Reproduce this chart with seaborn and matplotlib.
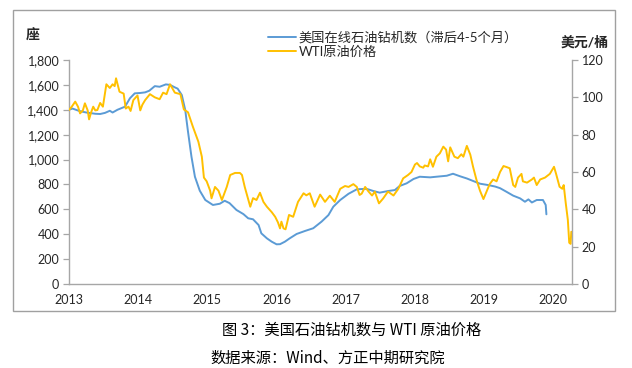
import matplotlib
matplotlib.use("Agg")
import matplotlib.pyplot as plt
import matplotlib.ticker as mticker
from matplotlib.patches import Rectangle
import seaborn as sns
import pandas as pd

# ----------------------------
# DATA (decimal years)
# ----------------------------
rig_t = [2013.00, 2013.05, 2013.15, 2013.25, 2013.38, 2013.45, 2013.52, 2013.59, 2013.63, 2013.70,
         2013.81, 2013.88, 2013.95, 2014.03, 2014.10, 2014.16, 2014.24, 2014.31, 2014.40, 2014.46,
         2014.53, 2014.57, 2014.63, 2014.68, 2014.72, 2014.77, 2014.82, 2014.89, 2014.97, 2015.08,
         2015.18, 2015.25, 2015.32, 2015.42, 2015.52, 2015.59, 2015.66, 2015.74, 2015.78, 2015.86,
         2015.93, 2016.00, 2016.05, 2016.12, 2016.19, 2016.29, 2016.41, 2016.53, 2016.65, 2016.75,
         2016.82, 2016.92, 2017.04, 2017.16, 2017.30, 2017.40, 2017.49, 2017.61, 2017.71, 2017.78,
         2017.88, 2017.98, 2018.07, 2018.22, 2018.31, 2018.46, 2018.55, 2018.65, 2018.75, 2018.84,
         2018.94, 2019.06, 2019.16, 2019.23, 2019.32, 2019.42, 2019.52, 2019.59, 2019.64, 2019.69,
         2019.76, 2019.85, 2019.89, 2019.90]
rig_count = [1400, 1410, 1390, 1378, 1368, 1366, 1375, 1392, 1378, 1400,
             1425, 1492, 1532, 1535, 1540, 1553, 1590, 1585, 1604, 1600,
             1580, 1570, 1519, 1398, 1224, 1023, 862, 750, 675, 635,
             645, 669, 650, 595, 562, 528, 520, 474, 407, 367,
             340, 319, 320, 340, 367, 402, 426, 448, 501, 554,
             621, 675, 725, 761, 765, 747, 734, 747, 755, 788,
             809, 844, 862, 857, 862, 870, 886, 866, 848, 828,
             806, 795, 783, 770, 742, 710, 688, 661, 680, 655,
             675, 675, 635, 560]

wti_t = [2013.00, 2013.04, 2013.09, 2013.13, 2013.16, 2013.20, 2013.23, 2013.27, 2013.29, 2013.32,
         2013.35, 2013.38, 2013.41, 2013.45, 2013.49, 2013.54, 2013.59, 2013.63, 2013.66, 2013.68,
         2013.73, 2013.79, 2013.82, 2013.86, 2013.89, 2013.93, 2013.99, 2014.03, 2014.06, 2014.10,
         2014.17, 2014.24, 2014.31, 2014.36, 2014.41, 2014.46, 2014.53, 2014.61, 2014.66, 2014.72,
         2014.79, 2014.87, 2014.92, 2014.95, 2014.99, 2015.04, 2015.06, 2015.11, 2015.16, 2015.21,
         2015.28, 2015.33, 2015.40, 2015.47, 2015.50, 2015.54, 2015.62, 2015.66, 2015.71, 2015.76,
         2015.81, 2015.86, 2015.93, 2015.98, 2016.02, 2016.05, 2016.07, 2016.10, 2016.13, 2016.18,
         2016.24, 2016.31, 2016.39, 2016.43, 2016.48, 2016.55, 2016.63, 2016.70, 2016.77, 2016.84,
         2016.92, 2016.99, 2017.04, 2017.11, 2017.16, 2017.20, 2017.23, 2017.28, 2017.33, 2017.38,
         2017.42, 2017.48, 2017.54, 2017.61, 2017.69, 2017.76, 2017.83, 2017.90, 2017.95, 2018.00,
         2018.03, 2018.07, 2018.12, 2018.14, 2018.19, 2018.22, 2018.26, 2018.31, 2018.36, 2018.41,
         2018.45, 2018.48, 2018.51, 2018.57, 2018.62, 2018.67, 2018.70, 2018.75, 2018.80, 2018.84,
         2018.89, 2018.94, 2018.99, 2019.04, 2019.08, 2019.13, 2019.18, 2019.23, 2019.28, 2019.32,
         2019.37, 2019.42, 2019.45, 2019.49, 2019.54, 2019.56, 2019.62, 2019.69, 2019.72, 2019.76,
         2019.81, 2019.88, 2019.95, 2020.01, 2020.04, 2020.09, 2020.13, 2020.15, 2020.18, 2020.21,
         2020.23, 2020.25, 2020.26]
wti_price = [93.2, 95.0, 97.7, 95.0, 91.4, 93.0, 96.8, 93.0, 88.2, 92.0,
             95.0, 93.0, 93.2, 97.0, 95.0, 107.0, 105.0, 107.0, 106.0, 110.2,
             103.0, 102.0, 94.0, 95.0, 92.7, 98.5, 101.0, 93.0, 96.0, 98.5,
             101.7, 100.0, 99.0, 102.5, 101.7, 107.0, 102.5, 101.7, 93.5, 92.0,
             84.3, 76.2, 68.2, 57.0, 55.0, 50.0, 45.9, 52.0, 50.0, 45.0,
             52.0, 58.4, 59.5, 59.5, 58.4, 52.0, 41.4, 46.0, 45.0, 48.9,
             44.0, 41.4, 38.5, 36.0, 33.0, 29.8, 33.4, 29.8, 29.3, 37.0,
             36.0, 44.0, 48.6, 47.5, 48.6, 41.4, 47.9, 44.0, 47.3, 44.0,
             51.0, 52.5, 52.0, 53.5, 52.0, 47.7, 48.4, 52.0, 49.5, 47.4,
             49.5, 43.2, 45.8, 49.5, 47.4, 51.0, 56.6, 58.4, 60.0, 64.0,
             64.8, 63.0, 62.3, 63.5, 63.0, 66.8, 62.8, 68.2, 70.0, 73.6,
             72.0, 65.7, 73.2, 68.2, 67.4, 69.5, 68.2, 74.0, 69.3, 62.8,
             55.7, 50.0, 45.5, 50.0, 53.5, 56.0, 55.0, 60.0, 63.2, 62.7,
             62.0, 53.0, 52.0, 57.0, 59.0, 55.0, 54.3, 56.0, 57.0, 53.0,
             56.0, 57.0, 59.0, 62.8, 59.0, 52.1, 51.0, 53.0, 43.2, 34.3,
             22.1, 21.5, 28.0]

years = [2013, 2014, 2015, 2016, 2017, 2018, 2019, 2020]
left_ticks = [0, 200, 400, 600, 800, 1000, 1200, 1400, 1600, 1800]
right_ticks = [0, 20, 40, 60, 80, 100, 120]

rig_label = "美国在线石油钻机数（滞后4-5个月）"
wti_label = "WTI原油价格"

BLUE = "#5B9BD5"
GOLD = "#FFC000"
GRAY = "#a6a6a6"

# ----------------------------
# STYLE
# ----------------------------
sns.set_style("white")
plt.rcParams["font.family"] = ["Lato", "Noto Sans CJK SC", "DejaVu Sans"]
plt.rcParams["axes.unicode_minus"] = False

rig_df = pd.DataFrame({"t": rig_t, "v": rig_count})
wti_df = pd.DataFrame({"t": wti_t, "v": wti_price})

fig = plt.figure(figsize=(6.32, 3.68), dpi=100)
ax = fig.add_axes([69 / 632, 1 - 284 / 368, (572 - 69) / 632, (284 - 60) / 368])
ax2 = ax.twinx()

sns.lineplot(data=rig_df, x="t", y="v", ax=ax, color=BLUE, lw=1.4,
             estimator=None, sort=False, label=rig_label, legend=False)
sns.lineplot(data=wti_df, x="t", y="v", ax=ax2, color=GOLD, lw=1.4,
             estimator=None, sort=False, label=wti_label, legend=False)

ax.set_xlim(2013, 2020.27)
ax.set_ylim(0, 1800)
ax2.set_ylim(0, 120)
ax.set_xticks(years)
ax.set_xticklabels([str(y) for y in years])
ax.set_yticks(left_ticks)
ax.yaxis.set_major_formatter(mticker.StrMethodFormatter("{x:,.0f}"))
ax2.set_yticks(right_ticks)
ax.set_xlabel("")
ax.set_ylabel("")
ax2.set_xlabel("")
ax2.set_ylabel("")

for a in (ax, ax2):
    for s in a.spines.values():
        s.set_visible(False)
    a.tick_params(colors=GRAY, labelcolor="#262626", labelsize=9,
                  length=4, width=0.9, direction="out", pad=3)
ax.spines["left"].set_visible(True)
ax.spines["bottom"].set_visible(True)
ax2.spines["right"].set_visible(True)
for s in (ax.spines["left"], ax.spines["bottom"], ax2.spines["right"]):
    s.set_color(GRAY)
    s.set_linewidth(1.0)

# axis unit labels
fig.text(33 / 632, 1 - 35 / 368, "座", ha="center", va="center",
         fontsize=10, fontweight="bold", color="#262626")
fig.text(585 / 632, 1 - 42 / 368, "美元/桶", ha="center", va="center",
         fontsize=10, fontweight="bold", color="#262626")

# legend
h1, l1 = ax.get_legend_handles_labels()
h2, l2 = ax2.get_legend_handles_labels()
fig.legend(h1 + h2, l1 + l2, loc="upper left",
           bbox_to_anchor=(268 / 632, 1 - 31 / 368), frameon=False,
           fontsize=9.5, handlelength=2.1, handletextpad=0.2,
           labelspacing=0.15, borderpad=0, borderaxespad=0,
           labelcolor="#262626")

# outer frame around the chart
fig.patches.append(Rectangle((13 / 632, 1 - 311 / 368), 602 / 632, 301 / 368,
                             transform=fig.transFigure, fill=False,
                             edgecolor="#a0a0a0", linewidth=1.0))

# caption
fig.text(352 / 632, 1 - 330 / 368, "图 3：美国石油钻机数与 WTI 原油价格",
         ha="center", va="center", fontsize=11, color="black",
         family=["Noto Sans CJK SC", "DejaVu Sans"])
fig.text(328 / 632, 1 - 358 / 368, "数据来源：Wind、方正中期研究院",
         ha="center", va="center", fontsize=11, color="black",
         family=["Noto Sans CJK SC", "DejaVu Sans"])

fig.savefig("out.png", dpi=100)
